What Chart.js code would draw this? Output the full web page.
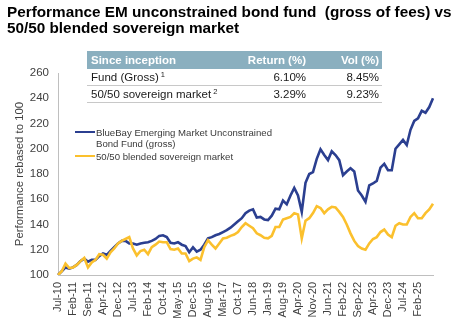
<!DOCTYPE html>
<html>
<head>
<meta charset="utf-8">
<script src="https://cdn.jsdelivr.net/npm/chart.js@4.4.1/dist/chart.umd.min.js"></script>
<style>
  html, body { margin: 0; padding: 0; background: #fff; }
  body {
    width: 456px; height: 322px; position: relative; overflow: hidden;
    font-family: "Liberation Sans", Arial, sans-serif;
  }
  #perfChart { position: absolute; left: 0; top: 0; }
  .title {
    position: absolute; left: 7px; top: 4px;
    font-weight: bold; font-size: 15.3px; line-height: 15.5px;
    color: #000; white-space: nowrap;
  }
  table.stats {
    position: absolute; left: 87px; top: 51px; width: 295px;
    border-collapse: collapse; font-size: 11.5px; color: #1a1a1a;
  }
  table.stats th {
    background: #8aafbf; color: #fff; font-weight: bold;
    height: 18px; padding: 0 3px; line-height: 18px;
  }
  table.stats td {
    height: 16px; padding: 0 3px; line-height: 16px;
    border-bottom: 1px solid #c8c8c8;
  }
  table.stats .l { text-align: left; padding-left: 4px; }
  table.stats .r { text-align: right; }
  table.stats sup { font-size: 7.5px; vertical-align: 4px; line-height: 0; margin-left: 2px; }
  #legend {
    position: absolute; left: 75px; top: 126.5px;
    font-size: 9.6px; line-height: 11px; color: #3a3a3a;
  }
  #legend .item { display: flex; align-items: flex-start; margin-bottom: 2px; }
  #legend .swatch { width: 20px; height: 2.5px; margin-top: 4.3px; flex: none; }
  #legend .txt { margin-left: 1px; max-width: 185px; }
</style>
</head>
<body>
<canvas id="perfChart" width="456" height="322"></canvas>
<div class="title">Performance EM unconstrained bond fund&nbsp; (gross of fees) vs<br>50/50 blended sovereign market</div>
<table class="stats">
  <colgroup><col style="width:148px"><col style="width:74px"><col style="width:73px"></colgroup>
  <tr><th class="l">Since inception</th><th class="r">Return (%)</th><th class="r">Vol (%)</th></tr>
  <tr><td class="l">Fund (Gross)<sup>1</sup></td><td class="r">6.10%</td><td class="r">8.45%</td></tr>
  <tr><td class="l">50/50 sovereign market<sup>2</sup></td><td class="r">3.29%</td><td class="r">9.23%</td></tr>
</table>
<div id="legend"></div>
<script>
// axis labels, one every STEP points
const tickLabels = ['Jul-10', 'Feb-11', 'Sep-11', 'Apr-12', 'Dec-12', 'Jul-13', 'Feb-14', 'Oct-14',
  'May-15', 'Dec-15', 'Aug-16', 'Mar-17', 'Oct-17', 'Jun-18', 'Jan-19', 'Aug-19', 'Apr-20',
  'Nov-20', 'Jun-21', 'Feb-22', 'Sep-22', 'Apr-23', 'Dec-23', 'Jul-24', 'Feb-25'];
const STEP = 4;

const seriesNames = ['BlueBay Emerging Market Unconstrained Bond Fund (gross)', '50/50 blended sovereign market'];

// rebased to 100
const fundValues = [
  100, 103, 106, 105, 106, 108, 111, 113, 110.5, 112,
  112, 115, 117, 116, 119, 122, 125, 127, 127, 125,
  125, 124, 125, 125.5, 126, 127, 128.5, 131, 131.5, 130,
  125.5, 125, 126, 124, 123, 118, 122, 118.5, 120, 124,
  129, 130, 131.5, 132.5, 134, 135.5, 137.5, 140, 142.5, 145,
  149, 151, 152, 145.5, 146, 144, 143.5, 147, 152.5, 152,
  159, 156, 163, 169, 163, 150, 173, 180, 181.5, 192,
  199.5, 195, 191, 198, 195, 191, 179, 182, 184.5, 182,
  167, 163, 158, 171, 172.5, 174.5, 185, 188, 183, 183,
  200, 203.5, 207, 203, 215, 222, 224, 230, 228.5, 233,
  240
];
const marketValues = [
  100, 103, 109, 105.5, 106, 108, 111, 113.5, 106, 110,
  112, 116.5, 116, 113, 118, 121, 125, 127, 128.5, 130,
  121, 115.5, 119, 120, 116.5, 122, 124, 126.5, 126, 126,
  120.5, 120, 121, 117, 117, 111, 113, 114, 112, 122,
  127.5, 124, 121, 125, 129, 129.5, 131, 132, 134, 138,
  141, 139, 137, 133, 131.5, 129.5, 129, 131, 138, 138,
  144, 145, 146, 149, 148, 129, 143, 145, 149, 154.5,
  153, 149, 152, 154, 153.5, 150, 146, 140, 133, 127,
  123, 121, 120, 125, 128.5, 130, 134, 136, 132, 130,
  139, 141, 140, 140, 146, 149, 145, 145, 149, 152,
  156.5
];

const categories = fundValues.map((_, i) => (i % STEP === 0 ? (tickLabels[i / STEP] || '') : ''));

const axisGrey = '#bfbfbf';
const textGrey = '#404040';

const chart = new Chart(document.getElementById('perfChart'), {
  type: 'line',
  data: {
    labels: categories,
    datasets: [
      {
        label: seriesNames[0],
        data: fundValues,
        borderColor: '#2b3f90',
        borderWidth: 2.6,
        pointRadius: 0,
        tension: 0,
        order: 1
      },
      {
        label: seriesNames[1],
        data: marketValues,
        borderColor: '#fbc02d',
        borderWidth: 2.6,
        pointRadius: 0,
        tension: 0,
        order: 0
      }
    ]
  },
  options: {
    responsive: false,
    animation: false,
    devicePixelRatio: 1,
    layout: { padding: { top: 73, right: 23, left: 0, bottom: 0 } },
    plugins: {
      legend: { display: false },
      tooltip: { enabled: false }
    },
    scales: {
      x: {
        grid: { display: false, drawTicks: false },
        border: { display: true, color: axisGrey, width: 1 },
        ticks: {
          autoSkip: false,
          minRotation: 90,
          maxRotation: 90,
          padding: 7,
          color: textGrey,
          font: { family: 'Liberation Sans', size: 11 }
        },
        afterFit: (scale) => { scale.height = 47; }
      },
      y: {
        min: 100,
        max: 260,
        grid: { display: false, drawTicks: false },
        border: { display: true, color: axisGrey, width: 1 },
        ticks: {
          stepSize: 20,
          padding: 9,
          color: textGrey,
          font: { family: 'Liberation Sans', size: 11.5 }
        },
        title: {
          display: true,
          text: 'Performance rebased to 100',
          color: textGrey,
          font: { family: 'Liberation Sans', size: 11.4 },
          padding: { top: 13, bottom: 0 }
        },
        afterFit: (scale) => { scale.width = 58; }
      }
    }
  }
});

// legend built from the datasets
const legendBox = document.getElementById('legend');
chart.data.datasets.forEach(ds => {
  const item = document.createElement('div');
  item.className = 'item';
  const sw = document.createElement('span');
  sw.className = 'swatch';
  sw.style.background = ds.borderColor;
  const txt = document.createElement('span');
  txt.className = 'txt';
  txt.textContent = ds.label;
  item.appendChild(sw);
  item.appendChild(txt);
  legendBox.appendChild(item);
});
</script>
</body>
</html>
